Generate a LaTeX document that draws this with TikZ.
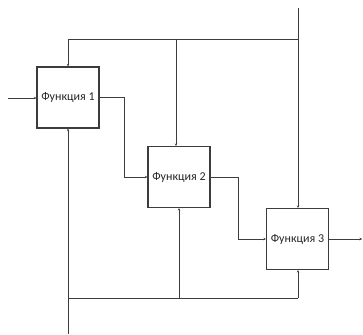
\documentclass[tikz,border=0pt]{standalone}
\usepackage{fontspec}
\setmainfont{Carlito}
\usetikzlibrary{arrows.meta,positioning,calc}
\definecolor{ink}{HTML}{3C3C3C}

\begin{document}
\begin{tikzpicture}[x=1pt,y=-1pt,font=\fontsize{12}{14}\selectfont,
   func/.style={draw=ink,line width=1.1pt,minimum width=62pt,minimum height=61pt,
                inner sep=0pt,text=black!85},
   link/.style={draw=ink,line width=1pt,-{Stealth[length=2.5pt,width=2.5pt]}},
   wire/.style={draw=ink,line width=1pt}]
  \useasboundingbox (0,0) rectangle (363,334);
  \node[func] (f1) at (68,97.5) {Функция 1};
  \node[func] (f2) at (179,177) {Функция 2};
  \node[func] (f3) at (297.5,239) {Функция 3};
  % top and bottom rails
  \coordinate (top) at (298,8);
  \coordinate (tr) at (298,40);
  \coordinate (tm) at (176,40);
  \coordinate (tl) at (68,40);
  \coordinate (bot) at (68,334);
  \coordinate (bl) at (68,298);
  \coordinate (bm) at (179,298);
  \coordinate (br) at (298,298);
  \coordinate (in) at (8,98);
  \coordinate (out) at (362,239);
  \draw[wire] (top) -- (tr) -- (tl);
  \draw[link] (tl) -- (f1.north);
  \draw[link] (tm) -- (f2.north -| tm);
  \draw[link] (tr) -- (f3.north -| tr);
  \draw[wire] (bl) -- (br);
  \draw[link] (bot) -- (f1.south);
  \draw[link] (bm) -- (f2.south -| bm);
  \draw[link] (br) -- (f3.south -| br);
  % flow between functions
  \draw[link] (in) -- (f1.west |- in);
  \draw[link] (f1.east) -- ++(25,0) |- (f2.west);
  \draw[link] (f2.east) -- ++(28,0) |- (f3.west);
  \draw[link] (f3.east) -- (out);
\end{tikzpicture}
\end{document}
